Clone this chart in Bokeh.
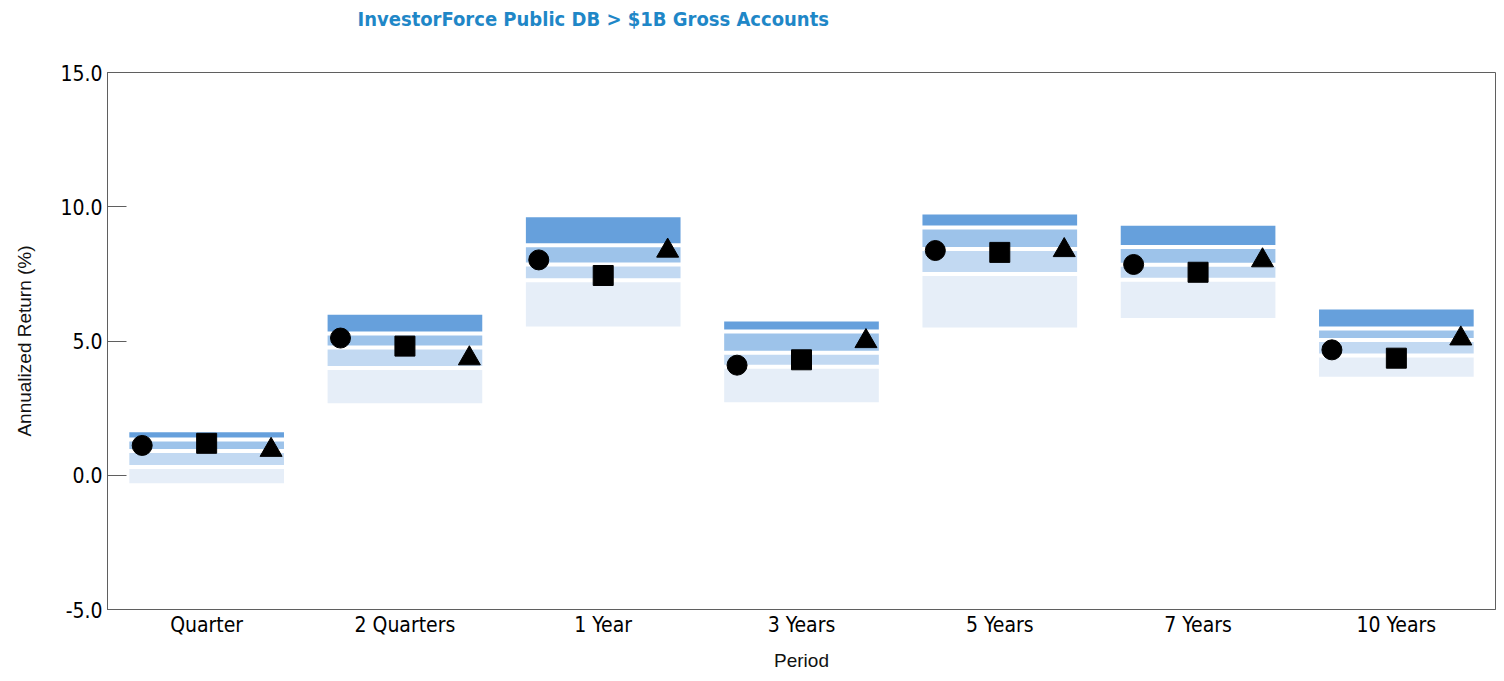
from bokeh.plotting import figure
from bokeh.models import Range1d, FactorRange, FixedTicker, PrintfTickFormatter, ColumnDataSource, Title
from bokeh.transform import dodge
from bokeh.embed import file_html
from bokeh.resources import INLINE

periods = ["Quarter", "2 Quarters", "1 Year", "3 Years", "5 Years", "7 Years", "10 Years"]
p05 = [1.60, 5.98, 9.61, 5.73, 9.71, 9.29, 6.17]
p25 = [1.33, 5.28, 8.57, 5.35, 9.23, 8.50, 5.47]
p50 = [0.90, 4.76, 7.85, 4.56, 8.43, 7.84, 5.04]
p75 = [0.31, 3.99, 7.26, 4.04, 7.50, 7.28, 4.46]
p95 = [-0.30, 2.68, 5.54, 2.72, 5.50, 5.86, 3.67]
circle_vals = [1.11, 5.11, 8.02, 4.10, 8.37, 7.85, 4.67]
square_vals = [1.19, 4.81, 7.44, 4.30, 8.30, 7.56, 4.36]
triangle_vals = [0.94, 4.35, 8.36, 4.99, 8.38, 8.00, 5.09]
y_ticks = [-5.0, 0.0, 5.0, 10.0, 15.0]
title_text = "InvestorForce Public DB > $1B Gross Accounts"

band_colors = ["#66A0DC", "#9DC3EA", "#C2D9F2", "#E6EEF8"]
AX = "#5F5F5F"
NARROW = "'Liberation Sans Narrow', 'DejaVu Sans Condensed', 'Liberation Sans', sans-serif"

src = ColumnDataSource(dict(x=periods, p05=p05, p25=p25, p50=p50, p75=p75, p95=p95,
                            c=circle_vals, s=square_vals, t=triangle_vals))

p = figure(width=1496, height=673, x_range=FactorRange(*periods), y_range=Range1d(-5, 15),
           output_backend="svg", toolbar_location=None,
           min_border_left=107, min_border_right=1, min_border_top=72, min_border_bottom=64)

bw = 0.78
p.vbar(x="x", top="p05", bottom="p25", width=bw, color=band_colors[0], line_color=None, source=src)
p.vbar(x="x", top="p25", bottom="p50", width=bw, color=band_colors[1], line_color=None, source=src)
p.vbar(x="x", top="p50", bottom="p75", width=bw, color=band_colors[2], line_color=None, source=src)
p.vbar(x="x", top="p75", bottom="p95", width=bw, color=band_colors[3], line_color=None, source=src)
for col in ["p25", "p50", "p75"]:
    p.rect(x="x", y=col, width=bw + 0.01, height=4, height_units="screen",
           fill_color="white", line_color=None, source=src)

p.scatter(x=dodge("x", -0.325, range=p.x_range), y="c", marker="circle", size=20,
          color="black", source=src)
p.scatter(x="x", y="s", marker="square", size=20, color="black", source=src)
p.scatter(x=dodge("x", 0.325, range=p.x_range), y="t", marker="triangle", size=22,
          color="black", source=src)

p.title.text = title_text
p.title.text_color = "#1F87C7"
p.title.text_font = NARROW
p.title.text_font_style = "bold"
p.title.text_font_size = "20px"
p.title.align = "left"
p.title.offset = 250
p.title.vertical_align = "top"
p.title.standoff = 0

# empty spacer panel that lifts the title away from the frame
spacer = Title(text=" ", text_font_size="10px", standoff=27)
p.add_layout(spacer, "above")

p.xgrid.visible = False
p.ygrid.visible = False
p.outline_line_color = AX
p.outline_line_width = 1

ya = p.yaxis[0]
ya.ticker = FixedTicker(ticks=y_ticks)
ya.formatter = PrintfTickFormatter(format="%.1f")
ya.major_tick_in = 19
ya.major_tick_out = 0
ya.minor_tick_in = 0
ya.minor_tick_out = 0
ya.axis_line_color = AX
ya.major_tick_line_color = AX
ya.major_label_text_font = NARROW
ya.major_label_text_font_size = "21px"
ya.major_label_text_color = "black"
ya.major_label_standoff = 5
ya.axis_label = "Annualized Return (%)"
ya.axis_label_text_font = "Liberation Sans"
ya.axis_label_text_font_style = "normal"
ya.axis_label_text_font_size = "19px"
ya.axis_label_text_color = "#111111"
ya.axis_label_standoff = 22

xa = p.xaxis[0]
xa.major_tick_in = 0
xa.major_tick_out = 0
xa.axis_line_color = AX
xa.major_label_text_font = NARROW
xa.major_label_text_font_size = "21px"
xa.major_label_text_color = "black"
xa.major_label_standoff = 3
xa.axis_label = "Period"
xa.axis_label_text_font = "Liberation Sans"
xa.axis_label_text_font_style = "normal"
xa.axis_label_text_font_size = "19px"
xa.axis_label_text_color = "#111111"
xa.axis_label_standoff = 10

open("out.html", "w").write(file_html(p, INLINE))
